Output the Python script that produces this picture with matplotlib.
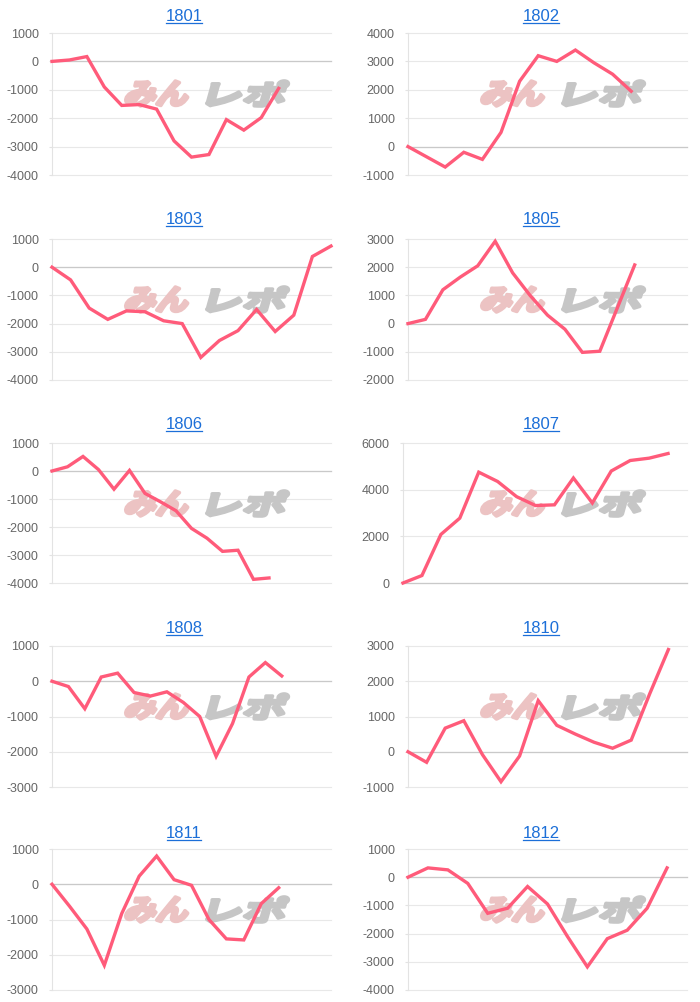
import matplotlib
matplotlib.use('Agg')
import matplotlib.pyplot as plt
from matplotlib.textpath import TextPath
from matplotlib.patches import PathPatch
from matplotlib.font_manager import FontProperties
from matplotlib.transforms import Affine2D, IdentityTransform
from matplotlib.lines import Line2D

plt.rcParams['font.family'] = ['Liberation Sans', 'DejaVu Sans']
plt.rcParams['axes.unicode_minus'] = False

# monthly cumulative balance, one point per day
months = ['1801', '1802', '1803', '1805', '1806', '1807', '1808', '1810', '1811', '1812']
n_days = [17, 16, 16, 17, 19, 16, 18, 16, 17, 15]

m1801 = [0, 50, 170, -900, -1550, -1520, -1680, -2800, -3370, -3280, -2050, -2420, -1980, -950]
m1802 = [0, -360, -720, -200, -450, 500, 2300, 3200, 3000, 3400, 2950, 2550, 1950]
m1803 = [0, -450, -1450, -1850, -1550, -1580, -1900, -2000, -3200, -2600, -2250, -1500, -2280, -1700, 380, 750]
m1805 = [0, 150, 1200, 1650, 2050, 2920, 1800, 1000, 300, -200, -1020, -980, 550, 2080]
m1806 = [0, 150, 520, 50, -650, 20, -800, -1100, -1420, -2050, -2400, -2870, -2830, -3870, -3820]
m1807 = [0, 320, 2080, 2780, 4750, 4350, 3700, 3320, 3350, 4500, 3430, 4800, 5250, 5350, 5550]
m1808 = [0, -150, -780, 120, 230, -320, -420, -300, -600, -1000, -2130, -1200, 120, 530, 150]
m1810 = [0, -300, 670, 880, -80, -850, -120, 1450, 750, 500, 270, 100, 330, 1650, 2900]
m1811 = [0, -620, -1270, -2300, -830, 230, 800, 130, -30, -1000, -1550, -1580, -550, -100]
m1812 = [0, 330, 260, -220, -1280, -1100, -330, -950, -2100, -3180, -2180, -1880, -1100, 330]

series = [m1801, m1802, m1803, m1805, m1806, m1807, m1808, m1810, m1811, m1812]
y_ranges = [(-4000, 1000, 1000), (-1000, 4000, 1000), (-4000, 1000, 1000), (-2000, 3000, 1000),
            (-4000, 1000, 1000), (0, 6000, 2000), (-3000, 1000, 1000), (-1000, 3000, 1000),
            (-3000, 1000, 1000), (-4000, 1000, 1000)]

W, H = 700, 1002
fig = plt.figure(figsize=(W / 100, H / 100), dpi=100)

col_x = [(52, 331), (408, 687)]
row_y = [(33, 175), (239, 380), (443, 583), (646, 787), (849, 990)]
title_base = [21, 224, 429, 633, 838]
title_cx = [184, 541]

logo_font = FontProperties(family='Noto Sans CJK JP', weight='bold')


def add_logo(ax, text, x0, x1, top, bottom, color):
    tp = TextPath((0, 0), text, size=100, prop=logo_font)
    ext = tp.get_extents()
    h = bottom - top - 2
    shear = 0.27
    sx = ((x1 - x0) - 2 - h * shear) / ext.width
    sy = h / ext.height
    tr = (Affine2D().translate(-ext.x0, -ext.y0).scale(sx, sy)
          .skew(shear, 0).translate(x0 + 1, H - bottom + 1))
    patch = PathPatch(tr.transform_path(tp), facecolor=color, edgecolor=color,
                      linewidth=2.6, joinstyle='round',
                      transform=IdentityTransform(), zorder=1, clip_on=False)
    ax.add_patch(patch)


titles = []
for i, (name, vals) in enumerate(zip(months, series)):
    r, c = divmod(i, 2)
    x0, x1 = col_x[c]
    if name == '1807':
        x0 = 403
    top, bot = row_y[r]
    ax = fig.add_axes([x0 / W, 1 - bot / H, (x1 - x0) / W, (bot - top) / H])
    ax.set_axisbelow(True)

    lo, hi, step = y_ranges[i]
    ax.set_ylim(lo, hi)
    ax.set_xlim(0, n_days[i] - 1)
    ticks = list(range(lo, hi + 1, step))
    ax.set_yticks(ticks)
    ax.set_yticklabels([str(t) for t in ticks])
    ax.set_xticks([])
    ax.grid(axis='y', color='#e8e8e8', linewidth=0.8, clip_on=False)
    ax.axhline(0, color='#c9c9c9', linewidth=0.9, zorder=0.6, clip_on=False)
    ax.tick_params(axis='y', length=2.5, width=0.8, color='#e3e3e3', pad=7,
                   labelsize=9, labelcolor='#666666')
    for s in ['top', 'right', 'bottom']:
        ax.spines[s].set_visible(False)
    ax.spines['left'].set_color('#e3e3e3')
    ax.spines['left'].set_linewidth(0.8)
    ax.patch.set_alpha(0)

    ax.plot(range(len(vals)), vals, color='#ff5b7a', linewidth=2.4, zorder=3,
            clip_on=False, solid_joinstyle='miter')

    lx = col_x[c][0]
    add_logo(ax, 'みん', lx + 71, lx + 141, top + 47, top + 74, '#ecc3c3')
    add_logo(ax, 'レポ', lx + 153, lx + 238, top + 47, top + 74, '#c6c6c6')

    t = fig.text(title_cx[c] / W, 1 - title_base[r] / H, name, ha='center',
                 va='baseline', fontsize=12, color='#1c6fd8')
    titles.append(t)

fig.canvas.draw()
renderer = fig.canvas.get_renderer()
for t in titles:
    bb = t.get_window_extent(renderer)
    yb = t.get_position()[1] * H - 2
    fig.add_artist(Line2D([bb.x0 + 0.5, bb.x1 - 1], [yb, yb], color='#1c6fd8', linewidth=0.9,
                          transform=IdentityTransform()))

fig.savefig('out.png', dpi=100)
